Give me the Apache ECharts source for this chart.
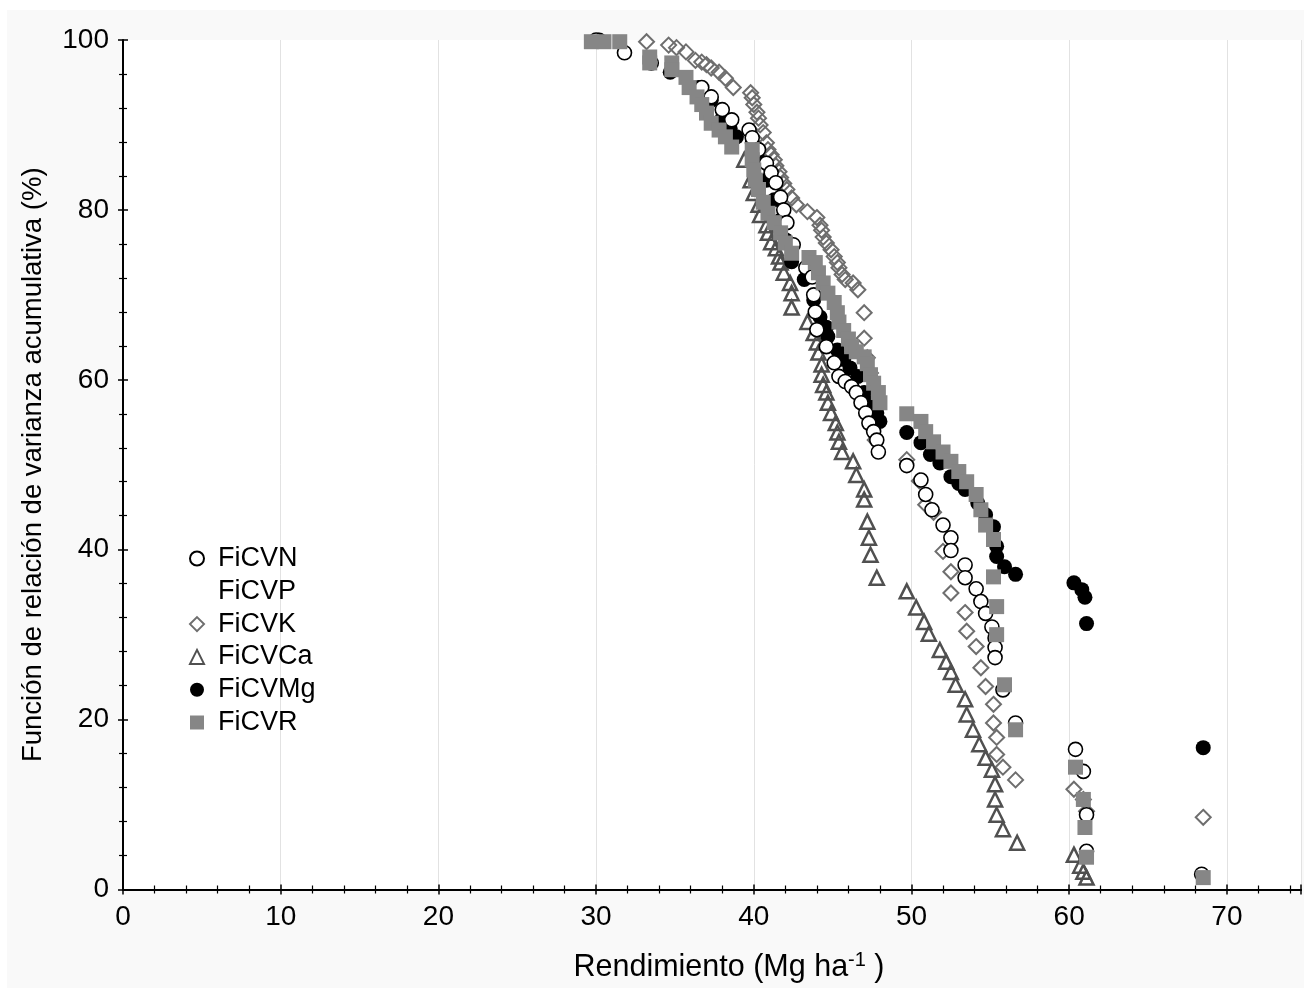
<!DOCTYPE html>
<html>
<head>
<meta charset="utf-8">
<script src="https://cdn.jsdelivr.net/npm/echarts@6/dist/echarts.min.js"></script>
<style>
html,body{margin:0;padding:0;background:#fff;}
#chart{width:1304px;height:988px;}
</style>
</head>
<body>
<div id="chart"></div>
<script>
// ---- data ----
const xTicks = [0, 10, 20, 30, 40, 50, 60, 70];
const yTicks = [0, 20, 40, 60, 80, 100];
const seriesNames = ['FiCVN', 'FiCVP', 'FiCVK', 'FiCVCa', 'FiCVMg', 'FiCVR'];

const dataN = [
[30.0,100],[31.8,98.5],[33.5,97.3],[36.7,94.4],[37.3,93.3],[38.0,91.8],[38.6,90.6],[39.7,89.4],
[39.9,88.5],[40.3,87.1],[40.8,85.5],[41.1,84.4],[41.4,83.2],[41.7,81.5],[41.9,80.0],[42.1,78.5],
[42.5,75.9],[43.3,73.2],[43.7,72.1],[43.8,70.0],[43.9,68.0],[44.0,65.9],[44.6,63.9],[45.1,62.0],
[45.4,60.4],[45.8,59.8],[46.2,59.2],[46.5,58.5],[46.8,57.3],[47.1,56.1],[47.3,54.9],[47.6,53.9],
[47.8,52.9],[47.9,51.5],[49.7,49.9],[50.6,48.2],[50.9,46.5],[51.3,44.7],[52.0,42.9],[52.5,41.4],
[52.5,39.9],[53.4,38.2],[53.4,36.7],[54.1,35.4],[54.4,33.9],[54.7,32.5],[55.1,30.9],[55.3,29.6],
[55.3,28.5],[55.3,27.3],[55.8,23.5],[56.6,19.6],[60.4,16.5],[60.9,13.9],[61.1,8.8],[61.1,4.5],
[68.4,1.8]
];
const dataP = [];
const dataK = [
[33.2,99.8],[34.6,99.4],[35.1,99.1],[35.7,98.6],[36.3,97.6],[36.7,97.4],[37.0,97.1],[37.3,96.7],
[37.8,96.2],[38.2,95.5],[38.7,94.4],[39.8,93.8],[39.9,93.2],[40.0,92.4],[40.2,91.5],[40.3,90.8],
[40.4,90.0],[40.6,89.1],[40.8,87.9],[40.9,87.1],[41.1,86.5],[41.3,85.9],[41.4,85.2],[41.6,84.5],
[41.7,83.8],[41.9,83.1],[42.1,82.4],[42.4,81.4],[42.7,80.6],[43.4,79.8],[44.0,79.1],[44.2,78.2],
[44.3,77.6],[44.4,76.8],[44.6,76.1],[44.9,75.3],[45.1,74.5],[45.3,73.8],[45.4,73.2],[45.6,72.4],
[45.8,71.8],[46.3,71.4],[46.6,70.6],[47.0,67.9],[47.0,64.9],[47.2,62.6],[47.4,60.8],[47.7,52.9],
[49.7,50.6],[50.5,48.1],[50.9,45.3],[51.4,44.4],[52.0,39.8],[52.5,37.4],[52.5,34.9],[53.4,32.6],
[53.5,30.4],[54.1,28.6],[54.4,26.1],[54.7,23.9],[55.2,21.8],[55.2,19.6],[55.4,17.9],[55.4,15.9],
[55.8,14.4],[56.6,12.9],[60.3,11.8],[60.9,10.6],[61.1,9.2],[68.5,8.5]
];
const dataCa = [
[39.4,85.9],[39.8,83.5],[40.0,82.0],[40.3,80.6],[40.4,79.4],[40.8,78.2],[40.9,77.3],[41.1,76.2],
[41.4,75.5],[41.6,74.5],[41.7,73.8],[41.9,72.6],[42.3,71.4],[42.4,70.2],[42.4,68.5],[43.4,66.8],
[43.8,65.5],[44.0,64.4],[44.1,63.2],[44.3,61.8],[44.3,60.6],[44.4,59.4],[44.6,58.5],[44.7,57.3],
[44.9,56.1],[45.2,54.9],[45.3,53.8],[45.4,52.7],[45.6,51.5],[46.3,50.4],[46.5,48.8],[47.0,47.1],
[47.0,45.9],[47.2,43.3],[47.3,41.4],[47.4,39.4],[47.8,36.7],[49.7,35.1],[50.3,33.2],[50.8,31.5],
[51.1,30.1],[51.8,28.2],[52.2,26.8],[52.5,25.6],[52.8,24.1],[53.4,22.4],[53.5,20.6],[53.9,18.8],
[54.3,17.1],[54.7,15.5],[55.1,14.1],[55.3,12.4],[55.3,10.6],[55.4,8.8],[55.8,7.1],[56.7,5.5],
[60.3,4.1],[60.7,2.8],[60.9,2.1],[61.1,1.4]
];
const dataMg = [
[30.2,100],[34.7,96.2],[36.5,94.4],[37.3,92.9],[38.0,90.8],[38.5,89.6],[38.9,88.6],[39.9,87.9],
[40.3,85.9],[40.8,83.5],[41.3,81.2],[41.7,78.8],[42.0,76.5],[42.4,73.9],[43.2,71.8],[43.8,69.4],
[44.2,67.4],[44.6,66.2],[44.7,65.1],[45.3,63.5],[45.7,62.4],[46.1,61.4],[46.6,60.4],[47.0,58.5],
[47.4,57.3],[47.8,56.1],[48.0,55.1],[49.7,53.8],[50.6,52.6],[51.2,51.2],[51.8,50.2],[52.5,48.6],
[53.0,47.8],[53.4,47.1],[54.2,45.5],[54.7,44.1],[55.2,42.7],[55.4,40.4],[55.4,39.2],[55.9,38.0],
[56.6,37.1],[60.3,36.1],[60.8,35.3],[61.0,34.4],[61.1,31.3],[68.5,16.7]
];
const dataR = [
[29.7,99.8],[30.5,99.8],[31.5,99.8],[33.4,98.0],[33.4,97.3],[34.8,97.3],[34.8,96.5],[35.7,95.6],
[35.9,94.4],[36.4,93.3],[36.7,92.4],[37.0,91.4],[37.3,90.2],[37.8,89.4],[38.2,88.6],[38.6,87.4],
[39.9,87.1],[39.9,85.9],[40.0,84.7],[40.1,83.5],[40.3,82.4],[40.6,80.9],[40.9,79.6],[41.3,78.5],
[41.7,77.3],[42.0,76.1],[42.4,74.9],[43.5,74.4],[43.9,73.8],[44.1,72.6],[44.4,71.4],[44.7,70.2],
[45.1,69.1],[45.3,67.9],[45.4,66.8],[45.7,65.8],[46.0,64.8],[46.2,63.9],[46.5,63.3],[47.0,62.7],
[47.2,61.9],[47.4,60.6],[47.6,59.6],[47.9,58.5],[48.0,57.3],[49.7,56.0],[50.6,55.1],[50.9,53.9],
[51.4,52.7],[52.0,51.5],[52.5,50.4],[53.0,49.2],[53.5,48.0],[54.1,46.5],[54.4,44.7],[54.7,42.9],
[55.2,41.2],[55.2,36.8],[55.4,33.3],[55.4,30.0],[55.9,24.1],[56.6,18.8],[60.4,14.4],[60.9,10.6],
[61.0,7.3],[61.1,3.8],[68.5,1.4]
];

// ---- chart ----
const chart = echarts.init(document.getElementById('chart'), null, {renderer: 'canvas'});
const FONT = 'Liberation Sans, Arial, sans-serif';
const X_MAX = 74.7;

const axisCommon = {
  min: 0,
  axisLine: {show: true, lineStyle: {color: '#000', width: 2}},
  axisTick: {show: true, inside: true, length: 5, lineStyle: {color: '#000', width: 1.5}},
  minorTick: {show: true, splitNumber: 5, length: 4, lineStyle: {color: '#000', width: 1.2}},
};

const option = {
  backgroundColor: '#ffffff',
  animation: false,
  graphic: [{
    type: 'rect', z: -100, silent: true,
    shape: {x: 7, y: 10, width: 1297, height: 978},
    style: {fill: '#f9f9f9'}
  }],
  grid: {left: 123, top: 40, right: 1, bottom: 98, show: true, backgroundColor: '#ffffff', borderWidth: 0},
  legend: {
    orient: 'vertical', left: 184, top: 540,
    itemWidth: 14, itemHeight: 14, itemGap: 5.8,
    textStyle: {fontFamily: FONT, fontSize: 27, color: '#000', lineHeight: 27, padding: [0, 0, 0, 9]},
    data: [
      {name: 'FiCVN'},
      {name: 'FiCVP', itemStyle: {opacity: 0}},
      {name: 'FiCVK'},
      {name: 'FiCVCa'},
      {name: 'FiCVMg'},
      {name: 'FiCVR'}
    ]
  },
  xAxis: [
    Object.assign({}, axisCommon, {
      type: 'value', position: 'bottom', max: X_MAX, interval: 10,
      axisLabel: {show: true, fontFamily: FONT, fontSize: 28, color: '#000', margin: 14,
        formatter: v => (xTicks.indexOf(v) >= 0 ? String(v) : '')},
      splitLine: {show: true, lineStyle: {color: '#e2e2e2', width: 1}},
      name: 'Rendimiento (Mg ha{sup|-1} )',
      nameLocation: 'middle', nameGap: 61,
      nameTextStyle: {fontFamily: FONT, fontSize: 30.5, color: '#000', padding: [0, 0, 0, 34],
        rich: {sup: {fontFamily: FONT, fontSize: 20, verticalAlign: 'top', padding: [0, 0, 14, 0], color: '#000'}}}
    }),
    Object.assign({}, axisCommon, {
      type: 'value', position: 'top', max: X_MAX, interval: 10,
      axisLabel: {show: false}, splitLine: {show: false}
    })
  ],
  yAxis: [
    Object.assign({}, axisCommon, {
      type: 'value', position: 'left', max: 100, interval: 20,
      axisLabel: {show: true, fontFamily: FONT, fontSize: 28, color: '#000', margin: 14,
        formatter: v => (yTicks.indexOf(v) >= 0 ? String(v) : '')},
      splitLine: {show: false},
      name: 'Función de relación de varianza acumulativa (%)',
      nameLocation: 'middle', nameGap: 76,
      nameTextStyle: {fontFamily: FONT, fontSize: 27.5, color: '#000'}
    }),
    Object.assign({}, axisCommon, {
      type: 'value', position: 'right', max: 100, interval: 20,
      axisLine: {show: false},
      axisLabel: {show: false}, splitLine: {show: false}
    })
  ],
  series: [
    {name: 'FiCVN', type: 'scatter', data: dataN, symbol: 'circle', symbolSize: 14, z: 5,
      itemStyle: {color: '#ffffff', borderColor: '#000', borderWidth: 1.6, opacity: 1}},
    {name: 'FiCVP', type: 'scatter', data: dataP, symbol: 'circle', symbolSize: 14, z: 1,
      itemStyle: {color: 'rgba(0,0,0,0)', borderColor: 'rgba(0,0,0,0)'}},
    {name: 'FiCVK', type: 'scatter', data: dataK, symbol: 'diamond', symbolSize: 15, z: 2,
      itemStyle: {color: 'rgba(255,255,255,0)', borderColor: '#6e6e6e', borderWidth: 2, opacity: 1}},
    {name: 'FiCVCa', type: 'scatter', data: dataCa, symbol: 'triangle', symbolSize: 14, z: 3,
      itemStyle: {color: 'rgba(255,255,255,0)', borderColor: '#505050', borderWidth: 2.5, opacity: 1}},
    {name: 'FiCVMg', type: 'scatter', data: dataMg, symbol: 'circle', symbolSize: 15, z: 4,
      itemStyle: {color: '#000000', opacity: 1}},
    {name: 'FiCVR', type: 'scatter', data: dataR, symbol: 'rect', symbolSize: 15, z: 6,
      itemStyle: {color: '#868686', opacity: 1}}
  ]
};
chart.setOption(option);
</script>
</body>
</html>
